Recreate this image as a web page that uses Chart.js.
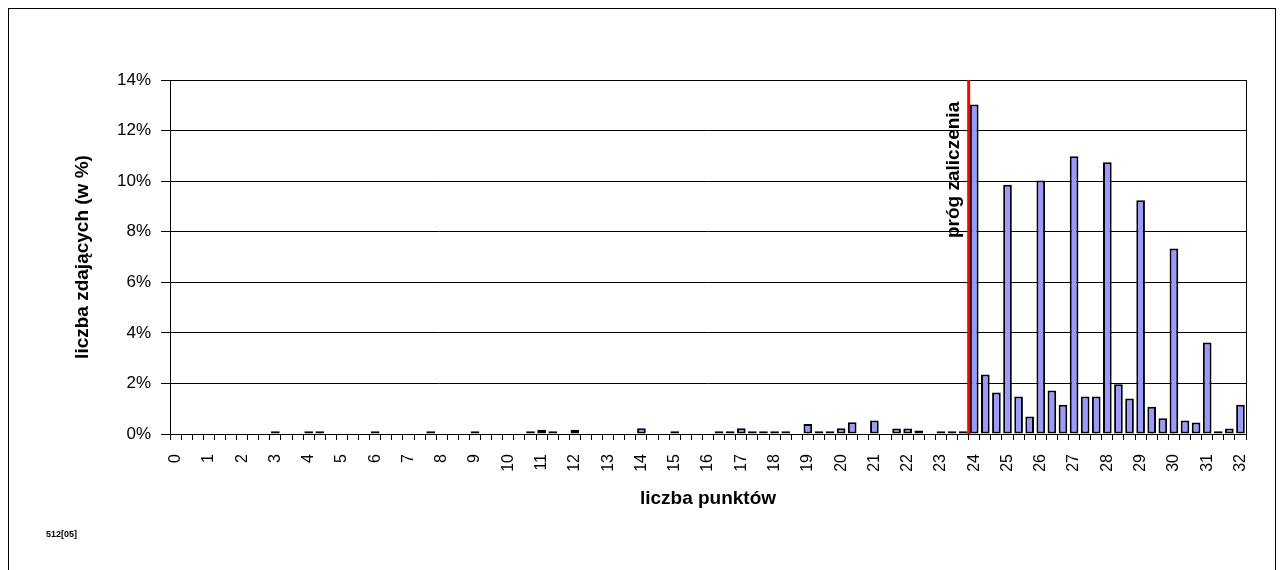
<!DOCTYPE html>
<html lang="pl">
<head>
<meta charset="UTF-8">
<title>liczba punktów</title>
<script src="https://cdn.jsdelivr.net/npm/chart.js@4.4.0/dist/chart.umd.min.js"></script>
<style>
  html, body { margin: 0; padding: 0; background: #fff; }
</style>
</head>
<body>
<canvas id="myChart" width="1284" height="570"></canvas>

<script>
// integer point values shown on the x axis; two unlabeled steps (1/3 pt) between them
const pointLabels = [0, 1, 2, 3, 4, 5, 6, 7, 8, 9, 10, 11, 12, 13, 14, 15, 16,
                     17, 18, 19, 20, 21, 22, 23, 24, 25, 26, 27, 28, 29, 30, 31, 32];

// share of students (in %) for each of the 97 categories, three per row
const shares = [
  0, 0, 0,          0, 0, 0,          0, 0, 0,          // 0-2
  0.11, 0, 0,       0.11, 0.11, 0,    0, 0, 0,          // 3-5
  0.11, 0, 0,       0, 0, 0.11,       0, 0, 0,          // 6-8
  0.11, 0, 0,       0, 0, 0.11,       0.17, 0.11, 0,    // 9-11
  0.17, 0, 0,       0, 0, 0,          0.23, 0, 0,       // 12-14
  0.11, 0, 0,       0, 0.11, 0.11,    0.23, 0.11, 0.11, // 15-17
  0.11, 0.11, 0,    0.40, 0.11, 0.11, 0.23, 0.46, 0,    // 18-20
  0.53, 0, 0.22,    0.22, 0.14, 0,    0.11, 0.11, 0.11, // 21-23
  13.03, 2.35, 1.64, 9.86, 1.48, 0.69, 10.03, 1.72, 1.16, // 24-26
  10.98, 1.48, 1.48, 10.75, 1.97, 1.40, 9.24, 1.08, 0.62, // 27-29
  7.34, 0.53, 0.45, 3.62, 0.11, 0.22,                    // 30-31
  1.16                                                   // 32
];

// pass mark: 24 points
const passMark = 24;

const categories = [];
pointLabels.forEach((p, i) => {
  categories.push(String(p));
  if (i < pointLabels.length - 1) categories.push('', '');
});
const passIndex = categories.indexOf(String(passMark));

Chart.defaults.font.family = '"Liberation Sans", Arial, sans-serif';
Chart.defaults.color = '#000';

const extras = {
  id: 'extras',
  afterDraw(chart) {
    const { ctx, chartArea: a, scales: { x } } = chart;
    ctx.save();
    // plot area frame
    ctx.strokeStyle = '#000';
    ctx.lineWidth = 1;
    ctx.strokeRect(Math.round(a.left) + 0.5, Math.round(a.top) + 0.5, Math.round(a.width), Math.round(a.height));

    // pass mark line between 23 2/3 and 24
    const px = (x.getPixelForValue(passIndex - 1) + x.getPixelForValue(passIndex)) / 2;
    ctx.strokeStyle = '#ff0000';
    ctx.lineWidth = 3;
    ctx.beginPath();
    ctx.moveTo(px, a.top);
    ctx.lineTo(px, a.bottom);
    ctx.stroke();

    ctx.save();
    ctx.translate(px - 10, a.top + 158);
    ctx.rotate(-Math.PI / 2);
    ctx.fillStyle = '#000';
    ctx.font = 'bold 19px "Liberation Sans", Arial, sans-serif';
    ctx.textAlign = 'left';
    ctx.textBaseline = 'alphabetic';
    ctx.fillText('próg zaliczenia', 0, 0);
    ctx.restore();

    // outer frame and code
    ctx.strokeStyle = '#000';
    ctx.lineWidth = 1;
    ctx.strokeRect(8.5, 8.5, 1267, 600);
    ctx.fillStyle = '#000';
    ctx.font = 'bold 9px "Liberation Sans Narrow", "Liberation Sans", sans-serif';
    ctx.textAlign = 'left';
    ctx.fillText('512[05]', 46, 537);
    ctx.restore();
  }
};

new Chart(document.getElementById('myChart').getContext('2d'), {
  type: 'bar',
  data: {
    labels: categories,
    datasets: [{
      data: shares,
      backgroundColor: '#9999ff',
      borderColor: '#000',
      borderWidth: 2,
      borderSkipped: false,
      barPercentage: 0.78,
      categoryPercentage: 1
    }]
  },
  options: {
    responsive: false,
    animation: false,
    layout: { padding: { top: 80, right: 38, left: 0, bottom: 0 } },
    plugins: { legend: { display: false }, tooltip: { enabled: false } },
    scales: {
      x: {
        ticks: { autoSkip: false, maxRotation: 90, minRotation: 90, font: { size: 16 }, padding: 14 },
        grid: { drawOnChartArea: false, color: '#000', tickLength: 6, offset: true },
        border: { color: '#000' },
        title: {
          display: true, text: 'liczba punktów',
          font: { size: 19, weight: 'bold' },
          padding: { top: 0, bottom: 60 }
        },
        afterFit(s) { s.height = 136; }
      },
      y: {
        min: 0,
        max: 14,
        ticks: { stepSize: 2, callback: v => v + '%', font: { size: 17 }, padding: 10 },
        grid: { color: '#000', lineWidth: 1, tickLength: 9 },
        border: { color: '#000' },
        title: {
          display: true, text: 'liczba zdających (w %)',
          font: { size: 19, weight: 'bold' },
          padding: { top: 71, bottom: 0 }
        },
        afterFit(s) { s.width = 170; }
      }
    }
  },
  plugins: [extras]
});
</script>
</body>
</html>
